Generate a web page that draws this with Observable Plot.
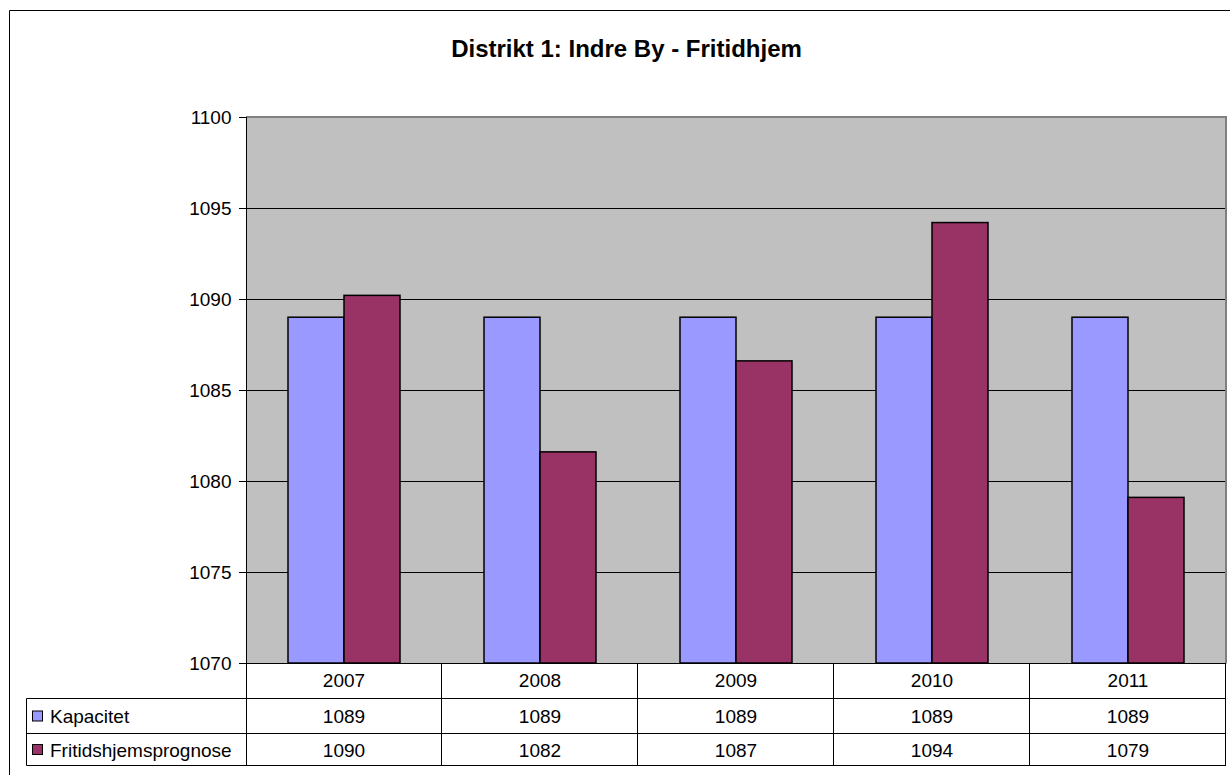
<!DOCTYPE html>
<html>
<head>
<meta charset="utf-8">
<script src="https://cdn.jsdelivr.net/npm/d3@7"></script>
<script src="https://cdn.jsdelivr.net/npm/@observablehq/plot@0.6"></script>
<style>
  html, body { margin: 0; padding: 0; background: #fff; }
  svg { display: block; }
</style>
</head>
<body>
<div id="chart"></div>
<script>
const chartTitle = "Distrikt 1: Indre By - Fritidhjem";
const years = ["2007", "2008", "2009", "2010", "2011"];
const seriesNames = ["Kapacitet", "Fritidshjemsprognose"];
const kapacitet = [1089, 1089, 1089, 1089, 1089];
const prognose = [1090.2, 1081.6, 1086.6, 1094.2, 1079.1];
const seriesColors = ["#9999FF", "#993366"];
const yTicks = [1070, 1075, 1080, 1085, 1090, 1095, 1100];
const yDomain = [1070, 1100];

const seriesValues = [kapacitet, prognose];
const data = years.flatMap((yr, i) => seriesNames.map((s, k) => ({year: yr, series: s, value: seriesValues[k][i]})));

const W = 1230, H = 775;
const FONT = "'Liberation Sans', Arial, Helvetica, sans-serif";

const plot = Plot.plot({
  width: W,
  height: H,
  marginLeft: 245,
  marginRight: 3,
  marginTop: 117,
  marginBottom: 112,
  style: {fontFamily: FONT, fontSize: "19px", background: "#fff", color: "#000"},
  fx: {domain: years, padding: 0, axis: null},
  x: {domain: seriesNames, paddingInner: 0, paddingOuter: 0.75, axis: null},
  y: {domain: yDomain, axis: null},
  color: {domain: seriesNames, range: seriesColors},
  marks: [
    Plot.frame({fill: "#C0C0C0", stroke: "#C0C0C0", strokeWidth: 1}),
    Plot.gridY(yTicks.slice(1, -1), {stroke: "#000", strokeOpacity: 1, strokeWidth: 1}),
    Plot.barY(data, {fx: "year", x: "series", y1: yDomain[0], y2: "value", fill: "series", stroke: "#000", strokeWidth: 1.5}),
    Plot.axisY(yTicks, {label: null, tickSize: 7, tickPadding: 8, tickFormat: d => String(d), fontSize: 19, stroke: "#000"})
  ]
});

document.getElementById("chart").appendChild(plot);

const svg = d3.select(plot);
const fx = plot.scale("fx");
const y = plot.scale("y");
const bw = fx.bandwidth;
const xStart = fx.apply(years[0]);
const xEnd = fx.apply(years[years.length - 1]) + bw;
const yTop = y.apply(yDomain[1]);
const yBase = y.apply(yDomain[0]);

const g = svg.append("g").attr("font-family", FONT).attr("fill", "#000").attr("text-anchor", "start");

// outer chart frame
g.append("path").attr("d", `M${W + 20},10.5H9.5V${H + 20}`).attr("fill", "none").attr("stroke", "#000").attr("stroke-width", 1);

// plot area border (top and right grey)
g.append("path").attr("d", `M${xStart},${yTop}H${xEnd}V${yBase}`).attr("fill", "none").attr("stroke", "#808080").attr("stroke-width", 2);

// title
g.append("text").attr("x", 626.5).attr("y", 57).attr("text-anchor", "middle")
  .attr("font-weight", "bold").attr("font-size", 24).text(chartTitle);

// table
const rowTops = [yBase, 698.5, 733.5, 765.5];
const tableLeft = 26.5;
const line = (x1, y1, x2, y2, c = "#000") => g.append("line").attr("x1", x1).attr("y1", y1).attr("x2", x2).attr("y2", y2).attr("stroke", c).attr("stroke-width", 1);

line(xStart, yBase + 0.5, xEnd, yBase + 0.5);
for (let r = 1; r < rowTops.length; r++) line(tableLeft, rowTops[r], xEnd, rowTops[r]);
line(tableLeft, rowTops[1], tableLeft, rowTops[3]);
line(xStart + 0.5, yTop, xStart + 0.5, rowTops[3]);
years.forEach((yr, i) => {
  const xb = fx.apply(yr) + bw;
  line(Math.round(xb) - 0.5, yBase, Math.round(xb) - 0.5, rowTops[3]);
});

// header row: categories
years.forEach(yr => {
  g.append("text").attr("x", fx.apply(yr) + bw / 2).attr("y", 687).attr("text-anchor", "middle").attr("font-size", 19).text(yr);
});

// data rows
const rowBaselines = [722.5, 756.5];
seriesNames.forEach((s, k) => {
  const rc = (rowTops[k + 1] + rowTops[k + 2]) / 2;
  g.append("rect").attr("x", 32.5).attr("y", rc - 5).attr("width", 10).attr("height", 10)
    .attr("fill", seriesColors[k]).attr("stroke", "#000").attr("stroke-width", 1);
  g.append("text").attr("x", 50).attr("y", rowBaselines[k]).attr("text-anchor", "start").attr("font-size", 19).text(s);
  years.forEach((yr, i) => {
    g.append("text").attr("x", fx.apply(yr) + bw / 2).attr("y", rowBaselines[k]).attr("text-anchor", "middle")
      .attr("font-size", 19).text(String(Math.round(seriesValues[k][i])));
  });
});
</script>
</body>
</html>
